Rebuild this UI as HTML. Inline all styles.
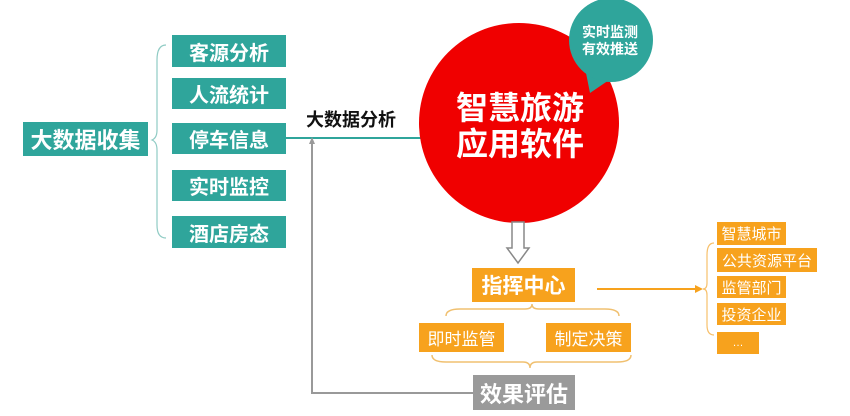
<!DOCTYPE html>
<html><head><meta charset="utf-8"><style>
body{margin:0;width:850px;height:416px;background:#fff;overflow:hidden;position:relative;font-family:"Liberation Sans","Noto Sans CJK SC",sans-serif}
.b{position:absolute;color:#fff;display:flex;align-items:center;justify-content:center;font-weight:bold}
.t{background:#2fa59b;font-size:20px}
.o{background:#f7a21d;font-size:17px;font-weight:normal}
</style></head><body>
<svg width="850" height="416" style="position:absolute;left:0;top:0">
<path d="M166 45 Q157 45 157 60 L157 130 Q157 138 152 140 Q157 142 157 150 L157 225 Q157 238 166 238" fill="none" stroke="#8fcbc4" stroke-width="1.2"/>
<line x1="286" y1="138" x2="422" y2="138" stroke="#2fa59b" stroke-width="2"/>
<path d="M312 142 L312 393 L474 393" fill="none" stroke="#999" stroke-width="2"/>
<path d="M312 137 L309 144 L315 144Z" fill="#999"/>
<circle cx="519" cy="123" r="100" fill="#f00000"/>
<path d="M585 68 L590 93 L612 78Z" fill="#2fa59b"/>
<circle cx="611" cy="40" r="42" fill="#2fa59b"/>
<path d="M512 222 L524 222 L524 248 L529 248 L518 263 L507 248 L512 248Z" fill="#fff" stroke="#888" stroke-width="1.5"/>
<line x1="597" y1="289" x2="700" y2="289" stroke="#f7a21d" stroke-width="2"/>
<path d="M703 289 L695 285 L695 293Z" fill="#f7a21d"/>
<path d="M714 243 Q707 243 707 255 L707 283 Q707 289 703 289 Q707 289 707 295 L707 325 Q707 335 714 335" fill="none" stroke="#f7c06b" stroke-width="1.2"/>
<path d="M446 316 Q446 309 460 309 L525 309 Q532 309 532 304 Q532 309 539 309 L605 309 Q619 309 619 316" fill="none" stroke="#f0c070" stroke-width="1.5"/>
<path d="M432 355 Q432 362 446 362 L523 362 Q530 362 530 368 Q530 362 537 362 L617 362 Q631 362 631 355" fill="none" stroke="#f0c070" stroke-width="1.5"/>
</svg>
<div class="b t" style="left:23px;top:122px;width:125px;height:34px;font-size:22px">大数据收集</div>
<div class="b t" style="left:172px;top:35px;width:114px;height:32px">客源分析</div>
<div class="b t" style="left:172px;top:78px;width:114px;height:31px">人流统计</div>
<div class="b t" style="left:172px;top:123px;width:114px;height:31px">停车信息</div>
<div class="b t" style="left:172px;top:170px;width:114px;height:31px">实时监控</div>
<div class="b t" style="left:172px;top:216px;width:114px;height:32px">酒店房态</div>
<div style="position:absolute;left:306px;top:106px;font-size:18px;font-weight:bold;color:#111">大数据分析</div>
<div class="b" style="left:440px;top:90px;width:160px;font-size:32px;line-height:36px;text-align:center">智慧旅游<br>应用软件</div>
<div class="b" style="left:570px;top:24px;width:80px;font-size:14px;line-height:17px;text-align:center">实时监测<br>有效推送</div>
<div class="b o" style="left:472px;top:268px;width:103px;height:34px;font-size:21px;font-weight:bold">指挥中心</div>
<div class="b o" style="left:419px;top:323px;width:85px;height:29px">即时监管</div>
<div class="b o" style="left:546px;top:323px;width:85px;height:29px">制定决策</div>
<div class="b" style="left:473px;top:375px;width:102px;height:35px;background:#9a9a9a;font-size:22px">效果评估</div>
<div class="b o" style="left:717px;top:222px;width:69px;height:23px;font-size:15px">智慧城市</div>
<div class="b o" style="left:717px;top:248px;width:100px;height:24px;font-size:15px">公共资源平台</div>
<div class="b o" style="left:717px;top:276px;width:69px;height:22px;font-size:15px">监管部门</div>
<div class="b o" style="left:717px;top:303px;width:69px;height:22px;font-size:15px">投资企业</div>
<div class="b o" style="left:717px;top:332px;width:42px;height:22px;font-size:11px">…</div>
</body></html>
